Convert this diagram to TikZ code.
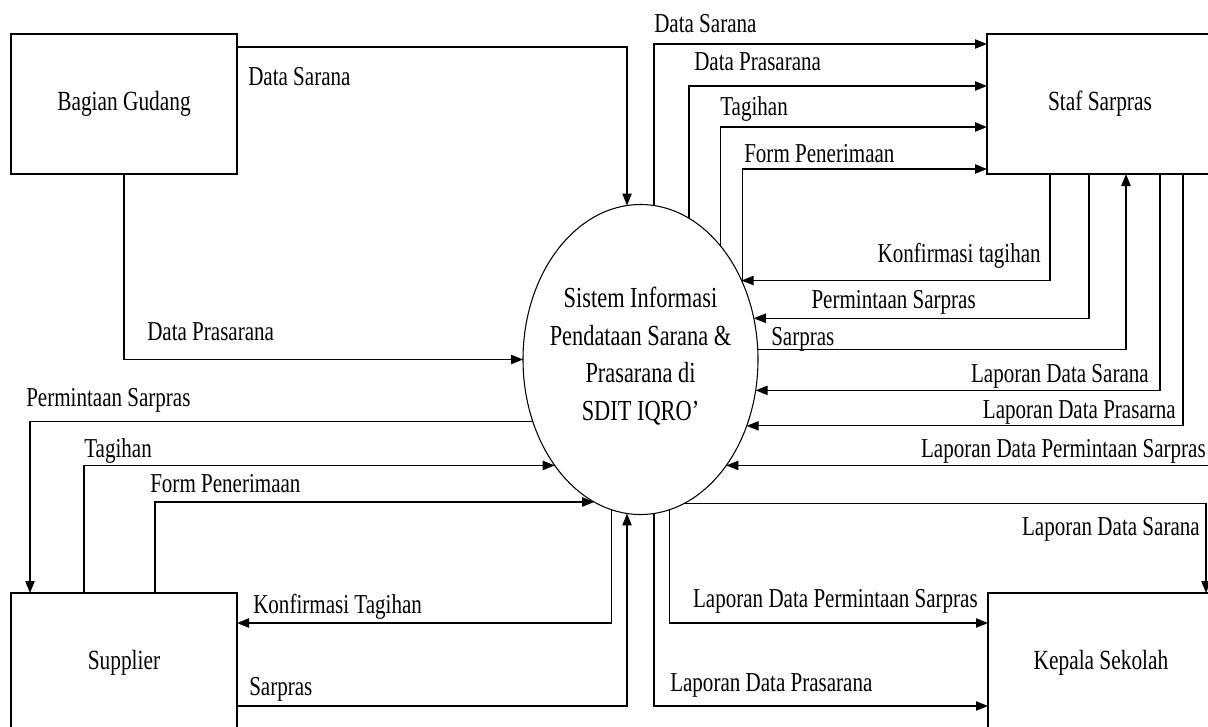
\documentclass[tikz,border=0pt]{standalone}
\usepackage{fontspec}
\setmainfont[FakeStretch=0.77]{Liberation Serif}
\usetikzlibrary{shapes.geometric,arrows.meta}
\begin{document}
\begin{tikzpicture}[x=0.75pt,y=-0.75pt,
  every node/.style={font=\fontsize{20.5pt}{28.3pt}\selectfont},
  entity/.style={draw,line width=0.9pt,rectangle,minimum width=169.5pt,minimum height=105pt,inner sep=0pt,outer sep=0pt,font=\fontsize{20.8pt}{28pt}\selectfont},
  process/.style={draw,line width=0.8pt,ellipse,minimum width=176.25pt,minimum height=232.5pt,inner sep=0pt,outer sep=0pt},
  proctxt/.style={inner sep=0pt,align=center,font=\fontsize{21.8pt}{28.3pt}\selectfont},
  flow/.style={line width=0.9pt,-{Triangle[length=9pt,width=7pt]}},
  lw/.style={inner sep=0pt,anchor=mid west},
  le/.style={inner sep=0pt,anchor=mid east}]
\useasboundingbox (0,0) rectangle (1208,726);
\clip (0,0) rectangle (1208,726);

% entities and process
\node[entity] (gudang) at (124,104) {Bagian Gudang};
\node[entity] (staf) at (1100,104) {Staf Sarpras};
\node[entity] (supplier) at (124,663) {Supplier};
\node[entity] (kepala) at (1101,663) {Kepala Sekolah};
\node[process] (proc) at (640.5,359.5) {};
\node[proctxt] (proctext) at (640.5,356) {Sistem Informasi\\Pendataan Sarana \&\\Prasarana di\\SDIT IQRO’};

% Bagian Gudang -> process
\draw[flow] ([shift={(0,-57)}]gudang.east) -| (proc.95.76);
\draw[flow] (gudang.south) |- (proc.west);

% process -> Staf Sarpras
\draw[flow] (proc.85.74) |- ([shift={(0,-60)}]staf.west);
\draw[flow] (proc.71.48) |- ([shift={(0,-18)}]staf.west);
\draw[flow] (proc.55.13) |- ([shift={(0,23)}]staf.west);
\draw[flow] (proc.37.58) |- ([shift={(0,65)}]staf.west);

% Staf Sarpras -> process
\draw[flow] ([shift={(-50,0)}]staf.south) |- (proc.38.25);
\draw[flow] ([shift={(-11,0)}]staf.south) |- (proc.20.61);
\draw[flow] (proc.5.61) -| ([shift={(26,0)}]staf.south);
\draw[flow] ([shift={(60,0)}]staf.south) |- (proc.-15.81);
\draw[flow] ([shift={(83,0)}]staf.south) |- (proc.-32.54);
\draw[flow] ([shift={(110,0)}]staf.south) |- (proc.-51.78);

% process -> Kepala Sekolah
\draw[flow] (proc.-73.61) -| ([shift={(105,0)}]kepala.north);
\draw[flow] (proc.-79.66) |- ([shift={(0,-40)}]kepala.west);
\draw[flow] (proc.-85.74) |- ([shift={(0,43)}]kepala.west);

% Supplier <-> process
\draw[flow] (proc.210.64) -| ([shift={(-94,0)}]supplier.north);
\draw[flow] ([shift={(-40,0)}]supplier.north) |- (proc.231.78);
\draw[flow] ([shift={(31,0)}]supplier.north) |- (proc.252.03);
\draw[flow] (proc.-101.91) |- ([shift={(0,-40)}]supplier.east);
\draw[flow] ([shift={(0,43)}]supplier.east) -| (proc.-95.01);

% labels
\node[lw] (l1) at (248,82) {Data Sarana};
\node[lw] (l2) at (147,337) {Data Prasarana};
\node[lw] (l3) at (654,29) {Data Sarana};
\node[lw] (l4) at (694,67) {Data Prasarana};
\node[lw] (l5) at (720,112) {Tagihan};
\node[lw] (l6) at (744,159) {Form Penerimaan};
\node[le] (l7) at (1041,259) {Konfirmasi tagihan};
\node[le] (l8) at (976,305) {Permintaan Sarpras};
\node[lw] (l9) at (771,342) {Sarpras};
\node[le] (l10) at (1149,379) {Laporan Data Sarana};
\node[le] (l11) at (1176,415) {Laporan Data Prasarna};
\node[le] (l12) at (1206,454) {Laporan Data Permintaan Sarpras};
\node[le] (l13) at (1200,532) {Laporan Data Sarana};
\node[le] (l14) at (978,604) {Laporan Data Permintaan Sarpras};
\node[lw] (l15) at (670,688) {Laporan Data Prasarana};
\node[lw] (l16) at (26,403) {Permintaan Sarpras};
\node[lw] (l17) at (84,454) {Tagihan};
\node[lw] (l18) at (150,489) {Form Penerimaan};
\node[lw] (l19) at (253,610) {Konfirmasi Tagihan};
\node[lw] (l20) at (249,692) {Sarpras};
\end{tikzpicture}
\end{document}
